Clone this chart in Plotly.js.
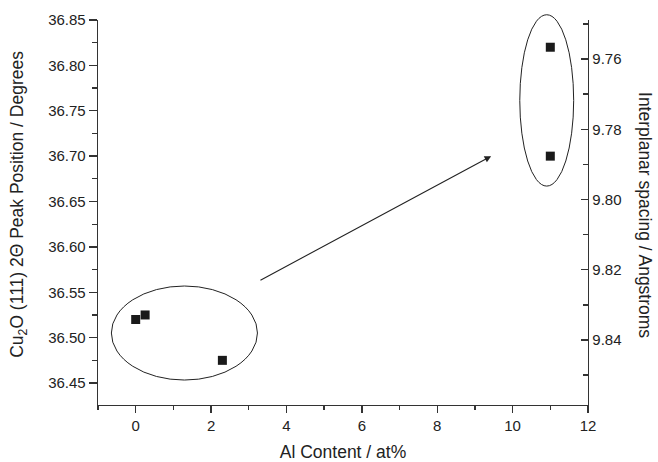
<!DOCTYPE html>
<html>
<head>
<meta charset="utf-8">
<script src="https://cdn.plot.ly/plotly-3.0.1.min.js"></script>
<style>html,body{margin:0;padding:0;background:#fff;}#chart{width:658px;height:462px;}</style>
</head>
<body>
<div id="chart"></div>
<script>
// Data
var alContent = [0, 0.25, 2.3, 11, 11];
var peakPosition = [36.52, 36.525, 36.475, 36.82, 36.70];

var xTickVals = [0, 2, 4, 6, 8, 10, 12];
var yTickVals = [36.45, 36.50, 36.55, 36.60, 36.65, 36.70, 36.75, 36.80, 36.85];
var y2TickVals = [9.76, 9.78, 9.80, 9.82, 9.84];

var xRange = [-1, 12];
var yRange = [36.4258, 36.85];
var y2Range = [9.8585, 9.7489];

// Annotation geometry (data units)
var lowGroup = {x0: -0.645, x1: 3.23, y0: 36.4533, y1: 36.5569};
var highGroup = {x0: 10.19, x1: 11.62, y0: 36.667, y1: 36.8558};
var arrowFrom = [3.27, 36.5624];
var arrowTo = [9.43, 36.70];

function yToPaper(v) { return (v - yRange[0]) / (yRange[1] - yRange[0]); }

var ink = '#222222';
var axisColor = '#333333';
var fontFam = '"Liberation Sans", Arial, sans-serif';

var trace = {
  x: alContent,
  y: peakPosition,
  type: 'scatter',
  mode: 'markers',
  marker: {symbol: 'square', size: 9, color: '#1a1a1a'},
  hoverinfo: 'x+y',
  showlegend: false
};

// empty trace so that the right-hand axis is drawn
var spacingAxisTrace = {
  x: [], y: [], type: 'scatter', mode: 'markers', yaxis: 'y2', showlegend: false, hoverinfo: 'skip'
};

var layout = {
  width: 658, height: 462,
  margin: {l: 98, r: 70, t: 20, b: 57},
  paper_bgcolor: '#ffffff', plot_bgcolor: '#ffffff',
  font: {family: fontFam, color: ink, size: 15},
  showlegend: false,
  xaxis: {
    range: xRange, autorange: false,
    tickvals: xTickVals, ticks: 'outside', ticklen: 7, tickwidth: 1.3, tickcolor: axisColor,
    minor: {dtick: 1, tick0: 0, ticks: 'outside', ticklen: 4, tickwidth: 1.3, tickcolor: axisColor},
    showline: true, linecolor: axisColor, linewidth: 1.3,
    showgrid: false, zeroline: false,
    tickfont: {size: 15, color: ink},
    title: {text: 'Al Content / at%', font: {size: 17.5, color: ink}, standoff: 12}
  },
  yaxis: {
    range: yRange, autorange: false,
    tickvals: yTickVals, tickformat: '.2f',
    ticks: 'outside', ticklen: 8, tickwidth: 1.3, tickcolor: axisColor,
    minor: {dtick: 0.025, tick0: 36.45, ticks: 'outside', ticklen: 5, tickwidth: 1.3, tickcolor: axisColor},
    showline: true, linecolor: axisColor, linewidth: 1.3,
    showgrid: false, zeroline: false,
    tickfont: {size: 15, color: ink}
  },
  yaxis2: {
    overlaying: 'y', side: 'right', anchor: 'x',
    range: y2Range, autorange: false,
    tickvals: y2TickVals, tickformat: '.2f',
    ticks: 'inside', ticklen: 7, tickwidth: 1.3, tickcolor: axisColor,
    minor: {dtick: 0.01, tick0: 9.75, ticks: 'inside', ticklen: 5, tickwidth: 1.3, tickcolor: axisColor},
    showline: true, linecolor: axisColor, linewidth: 1.3,
    showgrid: false, zeroline: false,
    tickfont: {size: 15, color: ink}
  },
  shapes: [
    {type: 'circle', xref: 'x', yref: 'y', x0: lowGroup.x0, x1: lowGroup.x1, y0: lowGroup.y0, y1: lowGroup.y1,
     line: {color: ink, width: 1}},
    {type: 'circle', xref: 'x', yref: 'paper', x0: highGroup.x0, x1: highGroup.x1,
     y0: yToPaper(highGroup.y0), y1: yToPaper(highGroup.y1),
     line: {color: ink, width: 1}}
  ],
  annotations: [
    {x: arrowTo[0], y: arrowTo[1], ax: arrowFrom[0], ay: arrowFrom[1], xref: 'x', yref: 'y', axref: 'x', ayref: 'y',
     text: '', showarrow: true, arrowhead: 2, arrowsize: 1.2, arrowwidth: 1.1, arrowcolor: ink, standoff: 0},
    {xref: 'paper', yref: 'paper', x: -0.1612, y: 0.52, xanchor: 'center', yanchor: 'middle',
     text: 'Cu<sub>2</sub>O (111) 2\u0398 Peak Position / Degrees', textangle: -90, showarrow: false,
     font: {size: 17.5, color: ink}},
    {xref: 'paper', yref: 'paper', x: 1.1163, y: 0.4935, xanchor: 'center', yanchor: 'middle',
     text: 'Interplanar spacing / Angstroms', textangle: 90, showarrow: false,
     font: {size: 17.5, color: ink}}
  ]
};

Plotly.newPlot('chart', [trace, spacingAxisTrace], layout, {displayModeBar: false, staticPlot: true});
</script>
</body>
</html>
